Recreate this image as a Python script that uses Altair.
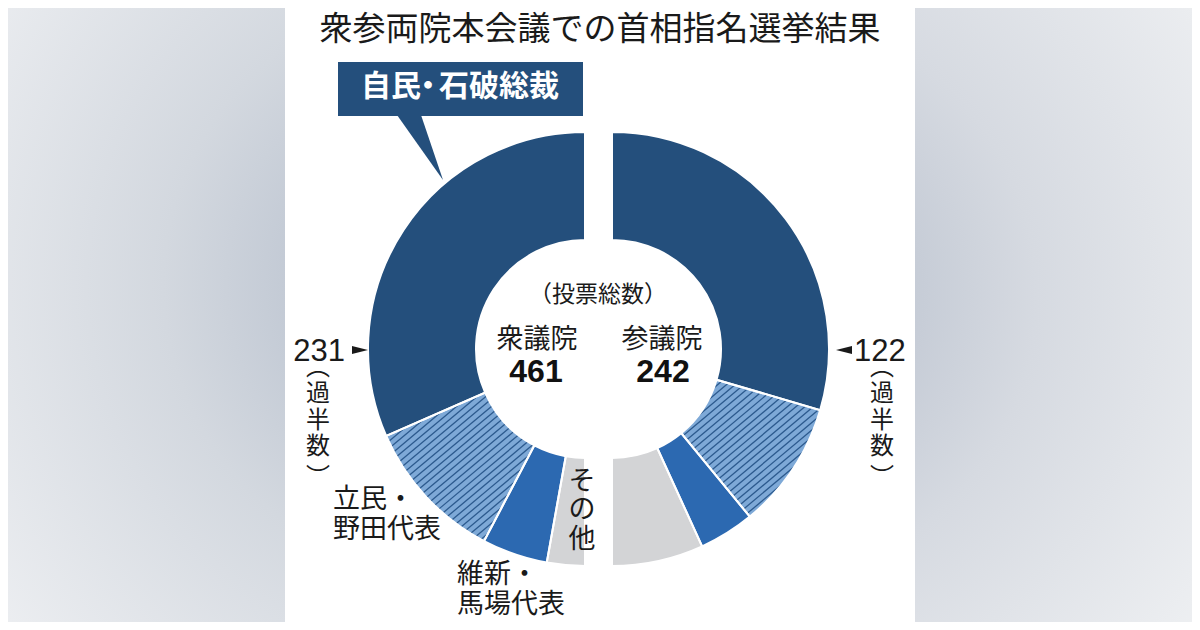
import math
import numpy as np
import pandas as pd
import altair as alt

# ---------------- data ----------------
parties = ["自民・石破総裁", "立民・野田代表", "維新・馬場代表", "その他"]
shu_votes = [291, 99, 45, 26]    # 衆議院 (total 461)
san_votes = [143, 46, 20, 33]    # 参議院 (total 242)
houses = ["衆議院", "参議院"]
title_text = "衆参両院本会議での首相指名選挙結果"
callout_parts = ["自民", "・", "石破総裁"]
center_caption = "（投票総数）"
majority_chars = ["︵", "過", "半", "数", "︶"]
label_nod = ["立民・", "野田代表"]
label_ishin = ["維新・", "馬場代表"]
label_other = ["そ", "の", "他"]

# ---------------- layout / style ----------------
OX, OY = 8, 8
W, H = 1184, 614
R_OUT, R_IN = 217, 109
CY = 349
CX_L, CX_R = 585, 612
slice_colors = ["#244f7c", "#7ea9d7", "#2c69b1", "#d3d4d6"]
HATCH_COLOR = "#2c5a8e"
JP = "Noto Sans CJK JP"
LAT = "Liberation Sans"

xs = alt.Scale(domain=[OX, OX + W], nice=False, zero=False)
ys = alt.Scale(domain=[OY, OY + H], nice=False, zero=False, reverse=True)


def X(f):
    return alt.X(f, type="quantitative", scale=xs, axis=None)


def Y(f):
    return alt.Y(f, type="quantitative", scale=ys, axis=None)


# ---------------- arcs ----------------
rows = []
for house, votes, cx, side in [(houses[0], shu_votes, CX_L, -1), (houses[1], san_votes, CX_R, 1)]:
    total = sum(votes)
    cum = 0
    for i, v in enumerate(votes):
        a0 = cum / total * math.pi
        a1 = (cum + v) / total * math.pi
        cum += v
        if side < 0:
            t0, t1 = -a1, -a0
        else:
            t0, t1 = a0, a1
        rows.append(dict(house=house, party=parties[i], votes=v, cx=cx, cy=CY,
                         t0=t0, t1=t1, color=slice_colors[i]))
arc_df = pd.DataFrame(rows)

# hatch lines for the 立民 slices, clipped to the slice geometry
hang = math.radians(40)
dvec = (math.cos(hang), -math.sin(hang))
nvec = (math.sin(hang), math.cos(hang))
spacing = 5.6
hrows = []
for _, r in arc_df[arc_df.party == parties[1]].iterrows():
    cx, cy, t0, t1 = r.cx, r.cy, r.t0, r.t1
    base_c = cx * nvec[0] + cy * nvec[1]
    ts = np.arange(-R_OUT - 10, R_OUT + 10, 0.2)
    k0 = math.floor((base_c - R_OUT - 10) / spacing)
    k1 = math.ceil((base_c + R_OUT + 10) / spacing)
    for k in range(k0, k1 + 1):
        c = k * spacing
        px0 = cx + (c - base_c) * nvec[0]
        py0 = cy + (c - base_c) * nvec[1]
        px = px0 + ts * dvec[0]
        py = py0 + ts * dvec[1]
        dx = px - cx
        dy = py - cy
        rr = np.hypot(dx, dy)
        th = np.arctan2(dx, -dy)
        inside = (rr >= R_IN) & (rr <= R_OUT) & (th >= t0) & (th <= t1)
        if not inside.any():
            continue
        padded = np.concatenate([[False], inside, [False]]).astype(int)
        diff = np.diff(padded)
        starts = np.where(diff == 1)[0]
        ends = np.where(diff == -1)[0] - 1
        for s, e in zip(starts, ends):
            if e - s < 2:
                continue
            hrows.append(dict(x1=px[s], y1=py[s], x2=px[e], y2=py[e]))
hatch_df = pd.DataFrame(hrows)

arcs = alt.Chart(arc_df).mark_arc(innerRadius=R_IN, outerRadius=R_OUT, strokeWidth=0).encode(
    x=X("cx"), y=Y("cy"),
    theta=alt.Theta("t0:Q", scale=None), theta2="t1:Q",
    color=alt.Color("color:N", scale=None),
)
hatch = alt.Chart(hatch_df).mark_rule(color=HATCH_COLOR, strokeWidth=1.3).encode(
    x=X("x1"), y=Y("y1"), x2="x2:Q", y2="y2:Q"
)
borders = alt.Chart(arc_df).mark_arc(innerRadius=R_IN, outerRadius=R_OUT, fillOpacity=0,
                                     stroke="white", strokeWidth=2).encode(
    x=X("cx"), y=Y("cy"),
    theta=alt.Theta("t0:Q", scale=None), theta2="t1:Q",
)

# ---------------- background panels ----------------
bg_df = pd.DataFrame([dict(x=OX, x2=285, y=OY, y2=OY + H, side="L"),
                      dict(x=915, x2=OX + W, y=OY, y2=OY + H, side="R")])
grad_l = alt.RadialGradient(gradient="radial",
                            stops=[alt.GradientStop(offset=0, color="#aeb8c8"),
                                   alt.GradientStop(offset=0.45, color="#d3d8df"),
                                   alt.GradientStop(offset=1, color="#f3f4f6")],
                            x1=1, y1=0.45, r1=0, x2=1, y2=0.45, r2=1.05)
grad_r = alt.RadialGradient(gradient="radial",
                            stops=[alt.GradientStop(offset=0, color="#b0b9c8"),
                                   alt.GradientStop(offset=0.45, color="#d6dae1"),
                                   alt.GradientStop(offset=1, color="#f5f6f7")],
                            x1=0, y1=0.47, r1=0, x2=0, y2=0.47, r2=1.05)
bg_l = alt.Chart(bg_df[bg_df.side == "L"]).mark_rect(fill=grad_l).encode(
    x=X("x"), x2="x2:Q", y=Y("y"), y2="y2:Q")
bg_r = alt.Chart(bg_df[bg_df.side == "R"]).mark_rect(fill=grad_r).encode(
    x=X("x"), x2="x2:Q", y=Y("y"), y2="y2:Q")

# ---------------- callout ----------------
box_df = pd.DataFrame([dict(x=338, x2=583, y=62, y2=116)])
box = alt.Chart(box_df).mark_rect(fill="#244f7c").encode(
    x=X("x"), x2="x2:Q", y=Y("y"), y2="y2:Q")
ptr_df = pd.DataFrame([dict(x=397, y=115)])
pointer = alt.Chart(ptr_df).mark_point(
    shape="M0,0L24,0L46,65Z", size=4, filled=True, opacity=1, fill="#244f7c", strokeWidth=0
).encode(x=X("x"), y=Y("y"))

# majority pointers
mp_df = pd.DataFrame([dict(x=352, y=350, side="L"), dict(x=852, y=350, side="R")])
mp_l = alt.Chart(mp_df[mp_df.side == "L"]).mark_point(
    shape="M0,-4L16,0L0,4Z", size=4, filled=True, opacity=1, fill="#1a1a1a", strokeWidth=0
).encode(x=X("x"), y=Y("y"))
mp_r = alt.Chart(mp_df[mp_df.side == "R"]).mark_point(
    shape="M0,-4L-16,0L0,4Z", size=4, filled=True, opacity=1, fill="#1a1a1a", strokeWidth=0
).encode(x=X("x"), y=Y("y"))

# ---------------- texts ----------------
shu_total = sum(shu_votes)
san_total = sum(san_votes)
shu_major = shu_total // 2 + 1
san_major = san_total // 2 + 1


def text_layer(items, **kw):
    df = pd.DataFrame(items, columns=["x", "y", "text"])
    base = dict(baseline="middle", font=JP, color="#1a1a1a")
    base.update(kw)
    return alt.Chart(df).mark_text(**base).encode(x=X("x"), y=Y("y"), text="text:N")


title = text_layer([(600, 30, title_text)], fontSize=33, align="center")
callout = text_layer([(391, 87, callout_parts[0]), (428, 87, callout_parts[1]),
                      (499, 87, callout_parts[2])],
                     fontSize=30, fontWeight="bold", color="white", align="center")
caption = text_layer([(598, 295, center_caption)], fontSize=23, align="center")
house_lbl = text_layer([(537, 340, houses[0]), (662, 340, houses[1])], fontSize=27, align="center")
totals = text_layer([(536, 372, str(shu_total)), (663, 372, str(san_total))],
                    fontSize=32, fontWeight="bold", font=LAT, align="center", color="#111111")
maj_l = text_layer([(345, 352, str(shu_major))], fontSize=31, font=LAT, align="right")
maj_r = text_layer([(854, 352, str(san_major))], fontSize=31, font=LAT, align="left")
vy = [368, 394, 421, 447, 478]
vert = text_layer([(318, yy, ch) for yy, ch in zip(vy, majority_chars)] +
                  [(882, yy, ch) for yy, ch in zip(vy, majority_chars)],
                  fontSize=24, align="center")
lbl = text_layer([(333, 500, label_nod[0]), (333, 530, label_nod[1]),
                  (457, 575, label_ishin[0]), (457, 605, label_ishin[1])],
                 fontSize=27, align="left")
other = text_layer([(582, yy, ch) for yy, ch in zip([482, 510, 540], label_other)],
                   fontSize=27, align="center")

chart = alt.layer(
    bg_l, bg_r, arcs, hatch, borders, box, pointer, mp_l, mp_r,
    title, callout, caption, house_lbl, totals, maj_l, maj_r, vert, lbl, other
).properties(
    width=W, height=H, padding=0, autosize=alt.AutoSizeParams(type="none"),
    background="white"
).configure_view(stroke=None)

chart.save("out.html", embed_options={"renderer": "svg", "actions": False})
